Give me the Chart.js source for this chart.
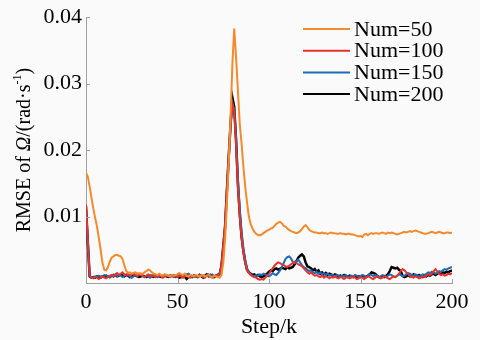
<!DOCTYPE html>
<html><head><meta charset="utf-8">
<script src="https://cdn.jsdelivr.net/npm/chart.js@4/dist/chart.umd.min.js"></script>
<style>html,body{margin:0;padding:0;background:#fafafa;}#wrap{width:480px;height:340px;position:relative;}</style>
</head><body><div id="wrap"><canvas id="c" width="480" height="340"></canvas></div>
<script>
const seriesNames = ["Num=50","Num=100","Num=150","Num=200"];
const seriesColors = ["#f48a2c","#e6322c","#1c6cb5","#000000"];
const xTicks = [0,50,100,150,200];
const yTicks = [0.01,0.02,0.03,0.04];
const steps = Array.from({length:201},(_,i)=>i);
const num50 = [.0166,.0160,.0145,.0128,.0112,.0098,.0085,.0068,.0050,.0030,.0020,.0019,.0024,.0032,.0038,.0040,.0042,.0042,.0041,.0040,
.0036,.0026,.0018,.0015,.0016,.0014,.0015,.0016,.0014,.0015,.0013,.0014,.0016,.0018,.0020,.0019,.0016,.0014,.0013,.0012,
.0014,.0012,.0011,.0013,.0012,.0011,.0010,.0012,.0011,.0012,.0013,.0015,.0013,.0012,.0014,.0011,.0010,.0012,.0011,.0010,
.0012,.0011,.0010,.0011,.0012,.0010,.0011,.0012,.0010,.0009,.0011,.0010,.0009,.0008,.0012,.0030,.0065,.0120,.0180,.0250,
.0330,.0383,.0340,.0290,.0240,.0210,.0175,.0145,.0121,.0100,.0088,.0082,.0077,.0074,.0072,.0072,.0073,.0075,.0077,.0079,
.0080,.0082,.0083,.0086,.0089,.0091,.0092,.0090,.0086,.0085,.0082,.0080,.0078,.0077,.0076,.0075,.0076,.0078,.0081,.0085,
.0087,.0084,.0080,.0078,.0077,.0076,.0076,.0075,.0075,.0076,.0075,.0075,.0074,.0075,.0076,.0075,.0075,.0074,.0074,.0075,
.0074,.0074,.0073,.0074,.0074,.0073,.0073,.0072,.0071,.0070,.0071,.0069,.0073,.0074,.0072,.0074,.0075,.0074,.0075,.0075,
.0074,.0075,.0076,.0075,.0074,.0076,.0075,.0076,.0075,.0074,.0073,.0074,.0075,.0076,.0077,.0076,.0077,.0078,.0077,.0078,
.0079,.0078,.0077,.0076,.0075,.0074,.0074,.0075,.0076,.0077,.0076,.0075,.0076,.0077,.0076,.0075,.0075,.0076,.0076,.0075,.0076];
const num100 = [.0118,.0065,.0011,.0008,.0007,.0009,.0008,.0006,.0008,.0010,.0008,.0007,.0009,.0011,.0012,.0010,.0013,.0015,.0012,.0014,
.0016,.0013,.0012,.0014,.0011,.0013,.0015,.0012,.0010,.0012,.0014,.0011,.0009,.0011,.0013,.0010,.0012,.0011,.0009,.0010,
.0012,.0010,.0008,.0010,.0012,.0011,.0009,.0010,.0012,.0010,.0009,.0011,.0010,.0008,.0010,.0012,.0009,.0008,.0010,.0012,
.0011,.0009,.0010,.0012,.0010,.0008,.0011,.0013,.0009,.0008,.0010,.0012,.0010,.0013,.0026,.0056,.0088,.0142,.0192,.0238,
.0270,.0258,.0208,.0145,.0100,.0068,.0046,.0030,.0019,.0015,.0012,.0010,.0009,.0008,.0006,.0005,.0006,.0005,.0008,.0011,
.0014,.0018,.0022,.0026,.0029,.0031,.0030,.0028,.0027,.0025,.0024,.0026,.0028,.0030,.0032,.0030,.0028,.0027,.0025,.0022,
.0019,.0016,.0014,.0016,.0013,.0011,.0012,.0010,.0009,.0011,.0008,.0010,.0009,.0007,.0009,.0008,.0010,.0008,.0007,.0009,
.0008,.0006,.0008,.0009,.0007,.0008,.0010,.0008,.0006,.0007,.0009,.0008,.0006,.0008,.0010,.0009,.0007,.0006,.0008,.0010,
.0009,.0007,.0008,.0010,.0009,.0007,.0006,.0008,.0010,.0009,.0011,.0014,.0018,.0021,.0019,.0016,.0013,.0011,.0009,.0008,
.0010,.0009,.0007,.0008,.0010,.0009,.0011,.0013,.0012,.0014,.0018,.0021,.0017,.0014,.0012,.0013,.0011,.0012,.0014,.0013,.0015];
const num150 = [.0112,.0058,.0010,.0009,.0008,.0010,.0009,.0011,.0010,.0009,.0011,.0012,.0010,.0009,.0011,.0013,.0011,.0010,.0012,.0011,
.0009,.0011,.0013,.0012,.0010,.0008,.0010,.0012,.0011,.0013,.0012,.0010,.0009,.0011,.0010,.0008,.0010,.0012,.0011,.0009,
.0010,.0012,.0011,.0013,.0011,.0010,.0012,.0011,.0009,.0010,.0012,.0014,.0012,.0010,.0011,.0013,.0014,.0012,.0010,.0009,
.0011,.0010,.0012,.0011,.0009,.0010,.0012,.0011,.0013,.0012,.0010,.0011,.0013,.0012,.0022,.0050,.0082,.0135,.0185,.0235,
.0270,.0262,.0218,.0158,.0112,.0078,.0052,.0035,.0022,.0017,.0013,.0011,.0010,.0012,.0011,.0013,.0012,.0014,.0013,.0011,
.0010,.0012,.0015,.0013,.0012,.0015,.0019,.0024,.0030,.0036,.0039,.0040,.0037,.0032,.0030,.0033,.0035,.0031,.0027,.0024,
.0022,.0020,.0018,.0019,.0016,.0015,.0017,.0014,.0016,.0013,.0015,.0012,.0014,.0011,.0013,.0012,.0010,.0012,.0011,.0009,
.0011,.0010,.0012,.0010,.0009,.0011,.0010,.0012,.0011,.0009,.0010,.0012,.0011,.0009,.0011,.0013,.0012,.0010,.0012,.0011,
.0009,.0010,.0012,.0011,.0009,.0011,.0013,.0012,.0010,.0009,.0011,.0013,.0012,.0010,.0011,.0013,.0015,.0014,.0012,.0011,
.0013,.0012,.0010,.0011,.0013,.0012,.0014,.0016,.0015,.0017,.0016,.0014,.0016,.0018,.0017,.0019,.0021,.0020,.0022,.0023,.0024];
const num200 = [.0115,.0060,.0010,.0008,.0009,.0008,.0010,.0009,.0008,.0010,.0011,.0009,.0010,.0009,.0011,.0010,.0012,.0010,.0011,.0013,
.0011,.0010,.0012,.0011,.0009,.0010,.0012,.0011,.0010,.0009,.0010,.0011,.0010,.0009,.0010,.0011,.0010,.0009,.0010,.0011,
.0010,.0009,.0010,.0011,.0010,.0009,.0010,.0011,.0010,.0009,.0010,.0008,.0009,.0011,.0009,.0006,.0009,.0010,.0009,.0011,
.0010,.0009,.0012,.0010,.0008,.0011,.0013,.0010,.0011,.0012,.0009,.0011,.0012,.0013,.0025,.0055,.0085,.0140,.0190,.0240,
.0279,.0265,.0215,.0150,.0105,.0070,.0048,.0032,.0020,.0016,.0014,.0012,.0013,.0011,.0012,.0010,.0009,.0010,.0012,.0014,
.0017,.0019,.0018,.0021,.0022,.0020,.0021,.0023,.0022,.0021,.0024,.0022,.0023,.0024,.0028,.0033,.0038,.0041,.0043,.0040,
.0031,.0025,.0024,.0022,.0019,.0021,.0017,.0019,.0014,.0016,.0013,.0015,.0012,.0014,.0013,.0011,.0013,.0012,.0010,.0011,
.0010,.0012,.0010,.0009,.0011,.0010,.0009,.0011,.0009,.0010,.0009,.0011,.0010,.0009,.0011,.0013,.0016,.0015,.0014,.0011,
.0009,.0008,.0010,.0009,.0011,.0013,.0018,.0024,.0023,.0022,.0023,.0020,.0018,.0011,.0009,.0010,.0012,.0010,.0011,.0013,
.0011,.0010,.0012,.0010,.0009,.0011,.0010,.0012,.0011,.0013,.0014,.0012,.0014,.0015,.0013,.0016,.0015,.0017,.0016,.0018,.0019];
const allSeries = [num50,num100,num150,num200];

const SERIF = "'Liberation Serif','DejaVu Serif',serif";

const datasets = allSeries.map((vals,i)=>({
  label: seriesNames[i],
  data: steps.map((s,j)=>({x:s,y:vals[j]})),
  borderColor: seriesColors[i],
  backgroundColor: seriesColors[i],
  borderWidth: i===3 ? 2.5 : 2,
  pointRadius: 0,
  tension: 0,
  fill: false
}));

const decor = {
  id:'decor',
  beforeDraw(chart){
    const ctx = chart.ctx;
    ctx.save();
    ctx.fillStyle = '#fafafa';
    ctx.fillRect(0,0,chart.width,chart.height);
    ctx.restore();
  },
  afterDraw(chart){
    const ctx = chart.ctx;
    const xs = chart.scales.x, ys = chart.scales.y;
    const a = chart.chartArea;
    ctx.save();
    ctx.strokeStyle = '#a0a0a0';
    ctx.lineWidth = 1;
    ctx.beginPath();
    xTicks.forEach(v=>{ const px = Math.round(xs.getPixelForValue(v))+0.5; ctx.moveTo(px,a.bottom); ctx.lineTo(px,a.bottom-4); });
    yTicks.forEach(v=>{ const py = Math.round(ys.getPixelForValue(v))+0.5; ctx.moveTo(a.left,py); ctx.lineTo(a.left+4,py); });
    ctx.stroke();
    ctx.font = '22px ' + SERIF;
    ctx.textBaseline = 'middle';
    ctx.textAlign = 'left';
    seriesNames.forEach((n,i)=>{
      const y = 29 + i*21.7;
      ctx.strokeStyle = seriesColors[i];
      ctx.lineWidth = 2;
      ctx.beginPath(); ctx.moveTo(303,y); ctx.lineTo(350,y); ctx.stroke();
      ctx.fillStyle = '#000';
      ctx.fillText(n,354,y+1);
    });
    const parts = [
      {t:'RMSE of ', f:'20px '+SERIF, dy:0},
      {t:'\u03A9', f:'italic 20px '+SERIF, dy:0},
      {t:'/(rad\u00B7s', f:'20px '+SERIF, dy:0},
      {t:'-1', f:'12px '+SERIF, dy:-7},
      {t:')', f:'20px '+SERIF, dy:0}
    ];
    let total = 0;
    parts.forEach(p=>{ ctx.font=p.f; p.w=ctx.measureText(p.t).width; total+=p.w; });
    ctx.translate(25,(a.top+a.bottom)/2);
    ctx.rotate(-Math.PI/2);
    ctx.fillStyle = '#000';
    ctx.textBaseline = 'middle';
    let x = -total/2;
    parts.forEach(p=>{ ctx.font=p.f; ctx.fillText(p.t,x,p.dy); x+=p.w; });
    ctx.restore();
  }
};

new Chart(document.getElementById('c'),{
  type:'line',
  data:{datasets},
  options:{
    responsive:false,
    animation:false,
    devicePixelRatio:1,
    layout:{padding:{left:0,right:28,top:16,bottom:0}},
    plugins:{legend:{display:false},tooltip:{enabled:false}},
    scales:{
      x:{
        type:'linear', min:0, max:200,
        afterFit(s){ s.height = 57; },
        grid:{display:false, drawTicks:false},
        border:{display:true,color:'#a0a0a0',width:1},
        ticks:{stepSize:50, autoSkip:false, maxRotation:0, padding:6, color:'#000', font:{family:SERIF,size:22}},
        afterBuildTicks(s){ s.ticks = xTicks.map(v=>({value:v})); },
        title:{display:true,text:'Step/k',color:'#000',font:{family:SERIF,size:22},padding:{top:0,bottom:0}}
      },
      y:{
        type:'linear', min:0, max:0.04,
        afterFit(s){ s.width = 86; },
        grid:{display:false, drawTicks:false},
        border:{display:true,color:'#a0a0a0',width:1},
        ticks:{padding:4, color:'#000', font:{family:SERIF,size:22}, callback:(v)=> v===0 ? '' : v.toFixed(2)},
        afterBuildTicks(s){ s.ticks = [0].concat(yTicks).map(v=>({value:v})); }
      }
    }
  },
  plugins:[decor]
});
</script>
</body></html>
